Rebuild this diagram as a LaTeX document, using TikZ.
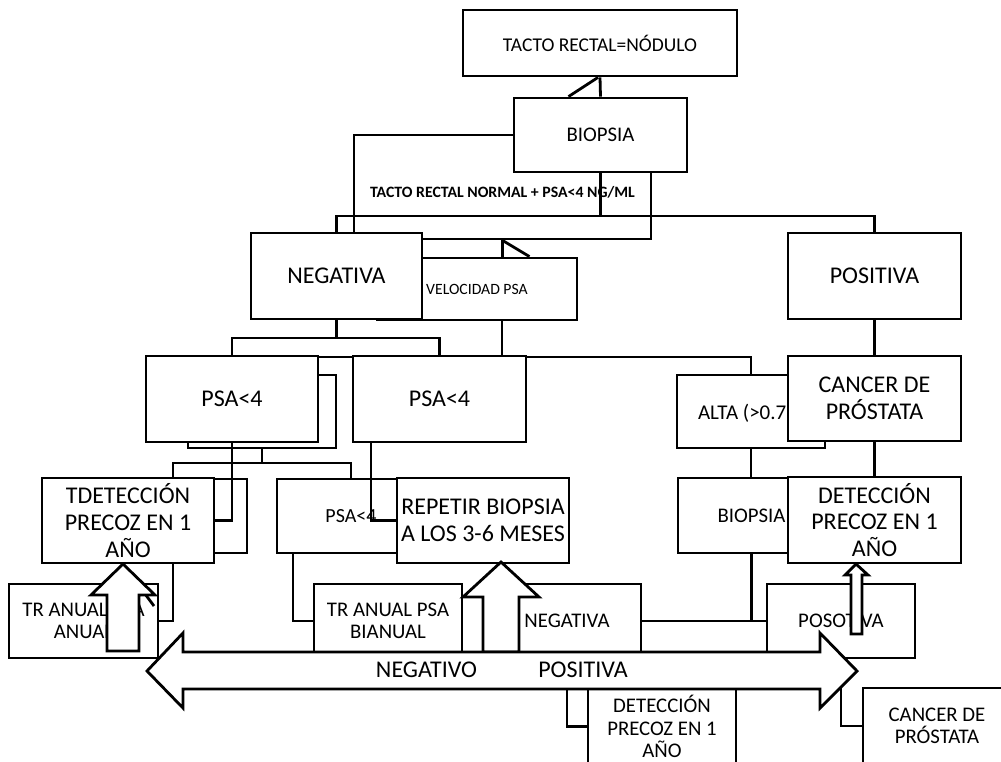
\documentclass[tikz,border=0pt]{standalone}
\usepackage{fontspec}
\setmainfont{Carlito}

\begin{document}
\begin{tikzpicture}[x=1pt,y=-1pt,line width=2.8pt,
  box/.style={draw,fill=white,inner sep=0pt,align=center},
  sgl/.style={text depth=0pt},
  fbig/.style={font=\fontsize{24}{26.8}\selectfont},
  fmid/.style={font=\fontsize{20.8}{22.5}\selectfont},
  fsml/.style={font=\fontsize{15.7}{18}\selectfont}]
\useasboundingbox (0,0) rectangle (1001,761);

\node[box,minimum width=297,minimum height=104] (normal) at (502.5,187) {};
\node[box,sgl,minimum width=274,minimum height=66,font=\fontsize{19.5}{22}\selectfont] (tacto) at (600,43) {TACTO RECTAL=NÓDULO};
\node[box,sgl,minimum width=173,minimum height=74,fmid] (biop) at (600.5,135) {BIOPSIA};
\node[sgl,font=\fontsize{15.8}{18}\selectfont\bfseries] (normaltxt) at (502.5,192) {TACTO RECTAL NORMAL + PSA<4 NG/ML};
\node[box,sgl,minimum width=200,minimum height=62,fsml] (vel) at (477,289) {VELOCIDAD PSA};
\node[box,sgl,minimum width=171,minimum height=86,fbig] (neg) at (336.5,276) {NEGATIVA};
\node[box,sgl,minimum width=173,minimum height=86,fbig] (pos) at (874.5,276) {POSITIVA};

\coordinate (biosplit) at (600.5,216);
\coordinate (negsplit) at (336.5,338);
\draw (tacto.south) -- (biop.north);
\draw ([xshift=-2]tacto.south) -- ([xshift=-32]biop.north);
\draw (biop.south) -- (biosplit);
\draw (neg.north) |- (biosplit) -| (pos.north);
\draw (normal.south) -- (normal.south |- vel.north);
\draw (normal.south) -- ([xshift=27]normal.south |- vel.north);

\node[box,minimum width=148,minimum height=73] (psaLs) at (262,411.5) {};
\node[box,sgl,minimum width=172,minimum height=86,fbig] (psaL) at (232,399) {PSA<4};
\node[box,sgl,minimum width=148,minimum height=73] (alta) at (751,411.5) {\makebox[106pt][l]{\fontsize{21}{23}\selectfont ALTA (>0.7}};
\draw ([yshift=-2.3]psaL.north east) -| (alta.north);
\node[box,sgl,minimum width=173,minimum height=86,fbig] (psaR) at (439.5,399) {PSA<4};
\node[box,minimum width=173,minimum height=85,fbig] (canc) at (874.5,398.5) {CANCER DE\\PRÓSTATA};

\draw (psaL.north) |- (negsplit) -| (psaR.north);
\draw (neg.south) -- (negsplit);
\draw ([xshift=25]vel.south) -- ([xshift=25]vel.south |- psaR.north);
\draw (pos.south) -- (canc.north);

\node[box,minimum width=97,minimum height=74] (tdetS) at (198.5,516) {};
\node[box,minimum width=172,minimum height=85,fbig] (tdet) at (128,520.5) {TDETECCIÓN\\PRECOZ EN 1\\AÑO};
\node[box,sgl,minimum width=148,minimum height=74,font=\fontsize{20}{22}\selectfont] (psaS) at (351,516) {PSA<4};
\node[box,minimum width=172,minimum height=85,fbig] (rep) at (483,520.5) {REPETIR BIOPSIA\\A LOS 3-6 MESES};
\node[box,sgl,minimum width=147,minimum height=75,fmid] (bioL) at (751.5,515.5) {BIOPSIA};
\node[box,minimum width=173,minimum height=86,fbig] (detR) at (874.5,520) {DETECCIÓN\\PRECOZ EN 1\\AÑO};

\coordinate (shsplit) at (262,463);
\draw (psaLs.south) -- (shsplit);
\draw ([xshift=45]tdet.north) |- (shsplit) -| (psaS.north);
\draw (psaL.south) |- (tdet.east);
\draw ([xshift=-68.5]psaR.south) |- (rep.west);
\draw (alta.south) -- (alta.south |- bioL.north);
\draw (canc.south) -- (detR.north);

\node[box,minimum width=149,minimum height=74,fmid] (trL) at (83.5,621) {TR ANUAL PSA\\ANUAL};
\node[box,minimum width=148,minimum height=74,fmid] (trB) at (388,621) {TR ANUAL PSA\\BIANUAL};
\node[box,sgl,minimum width=148,minimum height=74,fmid] (negL) at (567,621) {NEGATIVA};
\node[box,sgl,minimum width=148,minimum height=74,fmid] (poso) at (841,621) {POSOTIVA};

\coordinate (diagend) at (154,606);
\coordinate (arrL) at (567,689);
\coordinate (arrR) at (841,680);
\draw ([xshift=45]tdet.south) |- (trL.east);
\draw ([xshift=-5]tdet.south) -- (diagend);
\draw ([xshift=-58]psaS.south) |- (trB.west);
\draw (negL.east) -| (bioL.south);
\draw (bioL.south) |- (poso.west);

\node[box,minimum width=148,minimum height=75,fmid] (detB) at (662,726.5) {DETECCIÓN\\PRECOZ EN 1\\AÑO};
\node[box,minimum width=148,minimum height=76,fmid] (cancB) at (937,726) {CANCER DE\\PRÓSTATA};
\draw (arrL) |- (detB.west);
\draw (arrR) |- (cancB.west);

\draw[fill=white] (123,564) -- (155,595) -- (139,595) -- (139,651) -- (107,651) -- (107,595) -- (91,595) -- cycle;
\draw[fill=white] (501,562) -- (539,597) -- (519,597) -- (519,652) -- (483,652) -- (483,597) -- (463,597) -- cycle;
\draw[fill=white] (856,564) -- (868,575) -- (862,575) -- (862,634) -- (851,634) -- (851,575) -- (845,575) -- cycle;
\draw[fill=white] (147,671) -- (183,633) -- (183,652) -- (820,652) -- (820,633) -- (857,671)
  -- (820,708) -- (820,689) -- (183,689) -- (183,708) -- cycle;
\node[sgl,fbig] (negtxt) at (426.5,670) {NEGATIVO};
\node[sgl,fbig] (postxt) at (583,670) {POSITIVA};
\end{tikzpicture}
\end{document}
